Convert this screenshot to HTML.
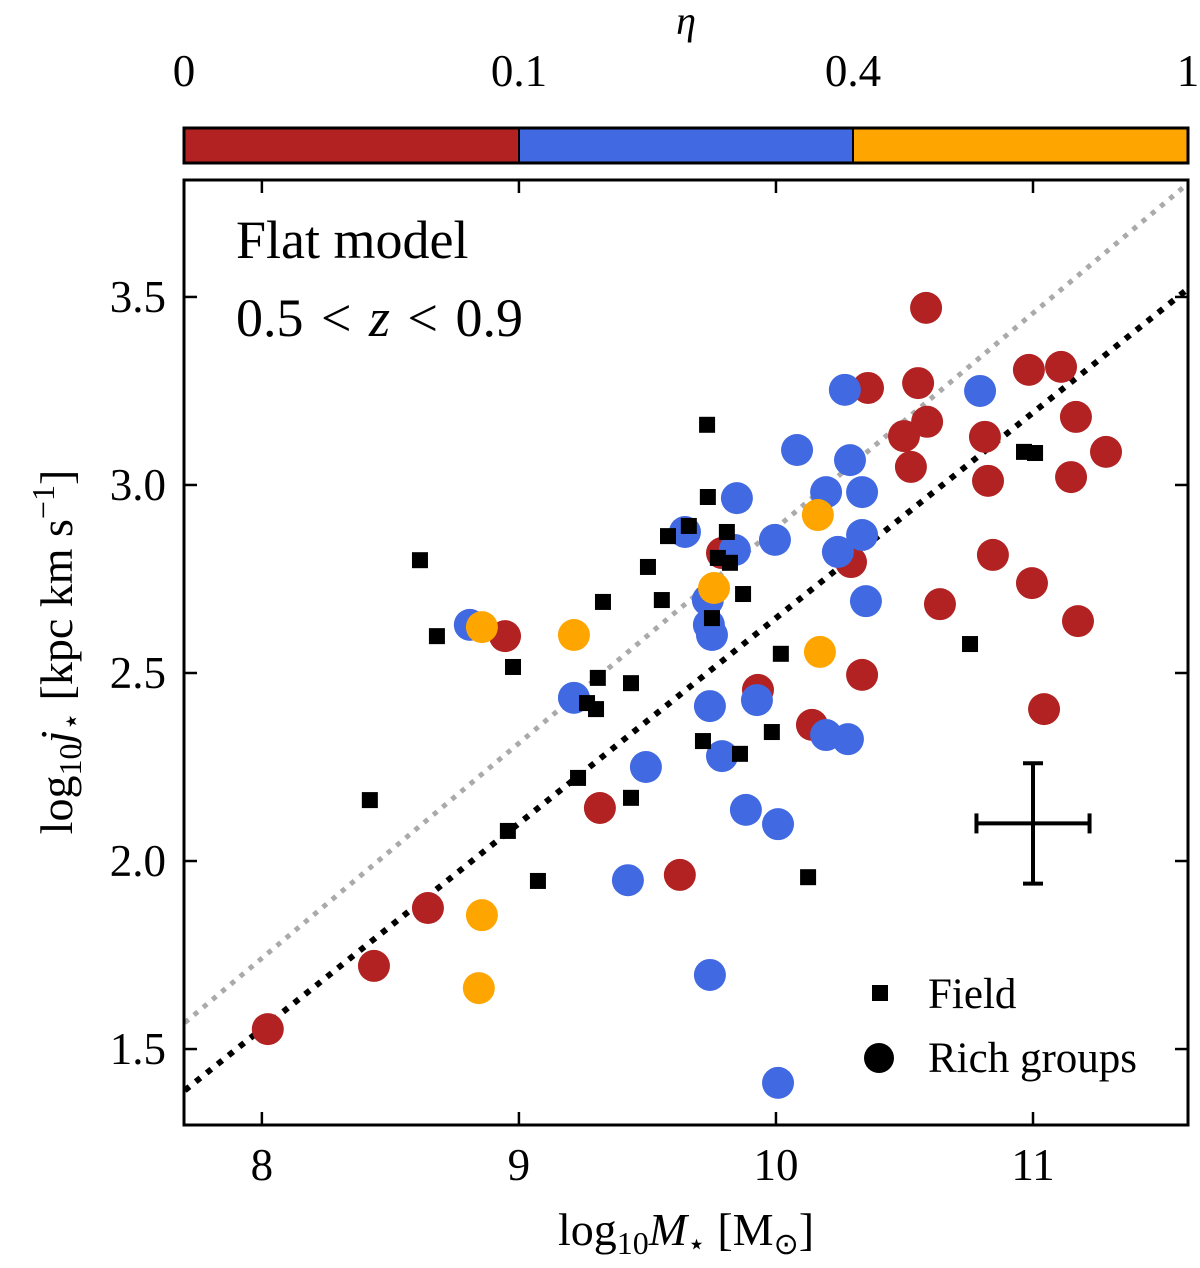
<!DOCTYPE html>
<html><head><meta charset="utf-8"><style>
html,body{margin:0;padding:0;background:#fff}
svg{display:block;font-family:"Liberation Serif",serif}
</style></head><body>
<svg id="chart" width="1200" height="1268" viewBox="0 0 1200 1268" xmlns="http://www.w3.org/2000/svg">
<defs><clipPath id="pc"><rect x="184" y="180" width="1004" height="945"/></clipPath></defs>
<g>
<rect x="184" y="128" width="335" height="35" fill="#b22222"/>
<rect x="519" y="128" width="334" height="35" fill="#4169e1"/>
<rect x="853" y="128" width="335" height="35" fill="#ffa500"/>
<rect x="184" y="128" width="1004" height="35" fill="none" stroke="#000" stroke-width="3"/>
<line x1="519" y1="128" x2="519" y2="163" stroke="#000" stroke-width="2"/>
<line x1="853" y1="128" x2="853" y2="163" stroke="#000" stroke-width="2"/>
<g font-size="45" text-anchor="middle">
<text x="184" y="86">0</text>
<text x="519" y="86">0.1</text>
<text x="853" y="86">0.4</text>
<text x="1188" y="86">1</text>
</g>
<text x="686" y="34" font-size="40" font-style="italic" text-anchor="middle">η</text>
</g>
<g id="plot"></g>
<rect x="184" y="180" width="1004" height="945" fill="none" stroke="#000" stroke-width="3"/>
<text x="236" y="258" font-size="54">Flat model</text>
<text x="236" y="336" font-size="54" xml:space="preserve">0.5 <tspan dx="4">&lt;</tspan> <tspan dx="4" font-style="italic">z</tspan> <tspan dx="4">&lt;</tspan> <tspan dx="4">0.9</tspan></text>
<text x="686" y="1245" font-size="46" text-anchor="middle">log<tspan font-size="32" dy="9">10</tspan><tspan dy="-9" font-style="italic">M</tspan><tspan font-size="30" dy="9">⋆</tspan><tspan dy="-9"> [M</tspan><tspan font-size="30" dy="9">⊙</tspan><tspan dy="-9">]</tspan></text>
<text transform="translate(72,652) rotate(-90)" font-size="46" text-anchor="middle">log<tspan font-size="32" dy="9">10</tspan><tspan dy="-9" font-style="italic">j</tspan><tspan font-size="30" dy="9">⋆</tspan><tspan dy="-9"> [kpc km s</tspan><tspan font-size="32" dy="-18">−1</tspan><tspan dy="18">]</tspan></text>
<g>
<rect x="872" y="985" width="16" height="16" fill="#000"/>
<text x="928" y="1008" font-size="43">Field</text>
<circle cx="879" cy="1058" r="15" fill="#000"/>
<text x="928" y="1072" font-size="43">Rich groups</text>
</g>
</svg>
<script>
const fieldX=[8.615,8.681,8.420,8.977,8.957,9.074,9.230,9.265,9.300,9.307,9.327,9.436,9.436,9.502,9.556,9.580,9.661,9.716,9.732,9.735,9.751,9.774,9.809,9.821,9.860,9.872,9.984,10.019,10.125,10.755,10.965,11.008];
const fieldY=[2.80,2.598,2.162,2.516,2.080,1.947,2.221,2.420,2.404,2.487,2.689,2.473,2.168,2.782,2.694,2.864,2.891,2.319,3.160,2.968,2.646,2.806,2.875,2.793,2.285,2.710,2.343,2.551,1.957,2.577,3.088,3.085];
const redX=[8.023,8.436,8.646,8.946,9.315,9.626,9.790,9.930,10.140,10.292,10.358,10.335,10.584,10.498,10.525,10.553,10.588,10.813,10.825,10.844,10.638,10.984,10.996,11.109,11.167,11.148,11.175,11.284,11.043];
const redY=[1.553,1.721,1.875,2.598,2.141,1.963,2.819,2.455,2.362,2.795,3.258,2.495,3.471,3.130,3.048,3.271,3.168,3.128,3.011,2.814,2.683,3.306,2.739,3.314,3.181,3.021,2.638,3.088,2.404];
const blueX=[8.809,9.214,9.494,9.424,9.646,9.739,9.735,9.751,9.743,9.790,9.848,9.840,9.883,9.926,10.008,9.996,10.082,10.195,10.241,10.268,10.288,10.335,10.335,10.350,10.195,10.280,10.794,9.743,10.008];
const blueY=[2.628,2.434,2.250,1.949,2.875,2.628,2.694,2.601,2.412,2.279,2.965,2.827,2.136,2.428,2.098,2.854,3.093,2.981,2.822,3.253,3.066,2.981,2.867,2.691,2.335,2.324,3.250,1.697,1.410];
const orangeX=[8.856,9.214,9.759,10.163,10.171,8.856,8.844];
const orangeY=[2.622,2.601,2.726,2.920,2.556,1.856,1.662];
const fitBlack=[[7.7,1.39],[11.6,3.52]];
const fitGray=[[7.7,1.57],[11.6,3.80]];
const xTicks=[8,9,10,11];
const yTicks=[1.5,2.0,2.5,3.0,3.5];
const errCenter=[11.0,2.1];
const errX=0.22, errY=0.16;

const X0=184,X1=1188,Y0=180,Y1=1125,xmin=7.697,xmax=11.603,ymin=1.298,ymax=3.811;
const sx=v=>X0+(v-xmin)/(xmax-xmin)*(X1-X0);
const sy=v=>Y1-(v-ymin)/(ymax-ymin)*(Y1-Y0);
const NS='http://www.w3.org/2000/svg';
const plot=document.getElementById('plot');
function mk(tag,attrs,parent){const e=document.createElementNS(NS,tag);for(const k in attrs)e.setAttribute(k,attrs[k]);(parent||plot).appendChild(e);return e;}
const clip=mk('g',{'clip-path':'url(#pc)'});


let l=mk('line',{x1:sx(fitGray[0][0]),y1:sy(fitGray[0][1]),x2:sx(fitGray[1][0]),y2:sy(fitGray[1][1]),stroke:'#aaa','stroke-width':5,'stroke-dasharray':'5 7'},clip);


l=mk('line',{x1:sx(fitBlack[0][0]),y1:sy(fitBlack[0][1]),x2:sx(fitBlack[1][0]),y2:sy(fitBlack[1][1]),stroke:'#000','stroke-width':6,'stroke-dasharray':'6 8'},clip);


function circles(xs,ys,col,name){xs.forEach((x,i)=>{const c=mk('circle',{cx:sx(x),cy:sy(ys[i]),r:16,fill:col},clip);

});}
circles(redX,redY,'#b22222','rich-group-point-low-eta');
circles(blueX,blueY,'#4169e1','rich-group-point-mid-eta');
circles(orangeX,orangeY,'#ffa500','rich-group-point-high-eta');
fieldX.forEach((x,i)=>{const r=mk('rect',{x:sx(x)-8,y:sy(fieldY[i])-8,width:16,height:16,fill:'#000'},clip);

});
const eg=mk('g',{stroke:'#000','stroke-width':4});


const ex=sx(errCenter[0]),ey=sy(errCenter[1]),ex0=sx(errCenter[0]-errX),ex1=sx(errCenter[0]+errX),ey0=sy(errCenter[1]+errY),ey1=sy(errCenter[1]-errY);
mk('line',{x1:ex0,y1:ey,x2:ex1,y2:ey},eg);mk('line',{x1:ex,y1:ey0,x2:ex,y2:ey1},eg);
mk('line',{x1:ex0,y1:ey-10,x2:ex0,y2:ey+10},eg);mk('line',{x1:ex1,y1:ey-10,x2:ex1,y2:ey+10},eg);
mk('line',{x1:ex-10,y1:ey0,x2:ex+10,y2:ey0},eg);mk('line',{x1:ex-10,y1:ey1,x2:ex+10,y2:ey1},eg);
xTicks.forEach(v=>{const x=sx(v);
mk('line',{x1:x,y1:Y1,x2:x,y2:Y1-13,stroke:'#000','stroke-width':2.5});
mk('line',{x1:x,y1:Y0,x2:x,y2:Y0+13,stroke:'#000','stroke-width':2.5});
const t=mk('text',{x:x,y:1180,'font-size':45,'text-anchor':'middle'});t.textContent=String(v);

});
yTicks.forEach(v=>{const y=sy(v);
mk('line',{x1:X0,y1:y,x2:X0+13,y2:y,stroke:'#000','stroke-width':2.5});
mk('line',{x1:X1,y1:y,x2:X1-13,y2:y,stroke:'#000','stroke-width':2.5});
const t=mk('text',{x:166,y:y+15,'font-size':45,'text-anchor':'end'});t.textContent=v.toFixed(1);

});
</script>
</body></html>
